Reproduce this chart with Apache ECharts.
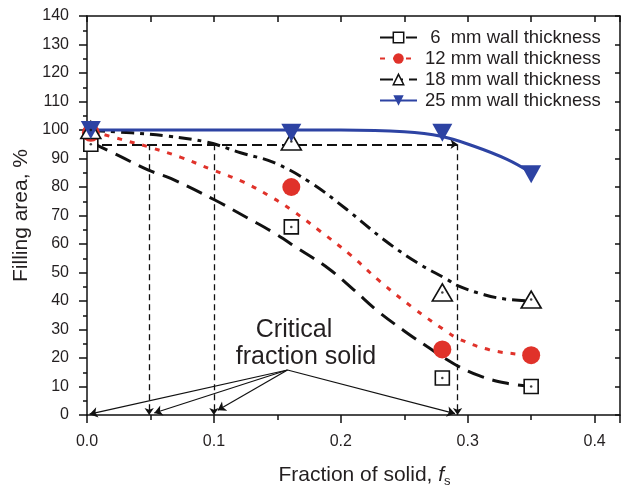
<!DOCTYPE html>
<html>
<head>
<meta charset="utf-8">
<script src="https://cdn.jsdelivr.net/npm/echarts@6/dist/echarts.min.js"></script>
<style>html,body{margin:0;padding:0;background:#fff}#c{width:621px;height:488px}</style>
</head>
<body>
<div id="c"></div>
<script>
// ---- data ----
const seriesNames = [' 6  mm wall thickness', '12 mm wall thickness', '18 mm wall thickness', '25 mm wall thickness'];
const fsMarkers = [0.003, 0.161, 0.28, 0.35];
const mm6Markers = [95, 66, 13, 10];
const mm12Markers = [99, 80, 23, 21];
const mm18Markers = [100, 96, 43, 40.5];
const mm25Markers = [100, 99, 99, 84.5];

const mm6CurveX = [0.004, 0.025, 0.048, 0.066, 0.1, 0.127, 0.147, 0.166, 0.19, 0.21, 0.229, 0.25, 0.268, 0.289, 0.309, 0.33, 0.35];
const mm6CurveY = [95.5, 91, 86, 83, 75.6, 69, 64, 58.5, 51.5, 44, 36.5, 29.5, 24, 18, 13.8, 11.2, 10];
const mm12CurveX = [0.004, 0.027, 0.049, 0.074, 0.099, 0.124, 0.147, 0.161, 0.184, 0.208, 0.231, 0.257, 0.281, 0.293, 0.317, 0.342, 0.35];
const mm12CurveY = [99.5, 96.7, 94, 90.4, 86, 81.6, 76, 72, 64.4, 56, 46.8, 37.6, 30, 26.7, 22.9, 21.2, 21];
const mm18CurveX = [0.004, 0.035, 0.064, 0.095, 0.121, 0.147, 0.176, 0.205, 0.234, 0.26, 0.284, 0.292, 0.313, 0.331, 0.35];
const mm18CurveY = [99.8, 99, 97.8, 95.7, 92, 88.6, 81.6, 72, 61.5, 53.5, 47.5, 45.4, 42.2, 40.6, 40];
const mm25CurveX = [0.003, 0.05, 0.1, 0.15, 0.2, 0.25, 0.279, 0.305, 0.331, 0.35];
const mm25CurveY = [100, 100, 100, 100, 100, 99.4, 97.8, 94.3, 89.7, 85];

const criticalFs = [0.049, 0.1, 0.292];      // vertical guide lines
const criticalLevel = 95;                    // horizontal guide level
const labelAnchor = [0.158, 15.8];           // where the annotation arrows start
const arrowTargets = [[0.002, 0.3], [0.053, 0.7], [0.103, 1.7], [0.29, 0.5]];

const yTicks = { min: 0, max: 140, interval: 10 };
const xTicks = { min: 0, max: 0.42, interval: 0.1 };

// ---- helpers ----
const zip = (xs, ys) => xs.map((x, i) => [x, ys[i]]);
const FONT = 'Liberation Sans, Arial, Helvetica, sans-serif';
const INK = '#231f20';
const RED = '#e0322a';
const BLUE = '#2d43a3';

const chart = echarts.init(document.getElementById('c'), null, { renderer: 'canvas' });

const curve = (name, xs, ys, color, dash, symbol, rotate, legendFill) => ({
  name, type: 'line', data: zip(xs, ys), smooth: 0.4, showSymbol: false,
  symbol, symbolRotate: rotate, symbolSize: 10,
  lineStyle: { color, width: 3, type: dash },
  itemStyle: { color: legendFill, borderColor: color, borderWidth: 1.5 },
  z: 3, silent: true, animation: false
});
const marks = (ys, symbol, size, fill, border, rotate) => ({
  type: 'scatter', data: zip(fsMarkers, ys), symbol, symbolSize: size, symbolRotate: rotate || 0,
  itemStyle: { color: fill, borderColor: border, borderWidth: border ? 1.6 : 0, opacity: 1 },
  z: 5, silent: true, animation: false, clip: false
});
const dots = (ys) => ({
  type: 'scatter', data: zip(fsMarkers, ys), symbol: 'circle', symbolSize: 2.5,
  itemStyle: { color: '#111' }, z: 6, silent: true, animation: false, clip: false
});
const guides = (lines, width, dash, arrowSize) => ({
  type: 'line', data: [], silent: true, animation: false,
  markLine: {
    silent: true, animation: false, symbol: ['none', 'arrow'], symbolSize: arrowSize,
    label: { show: false }, emphasis: { disabled: true },
    lineStyle: { color: '#111', width, type: dash, opacity: 1 },
    data: lines
  }
});

const hLine = [[{ coord: [0, criticalLevel] }, { coord: [criticalFs[2], criticalLevel] }]];
const vLines = criticalFs.map(f => [{ coord: [f, criticalLevel] }, { coord: [f, 0] }]);
const arrows = arrowTargets.map(t => [{ coord: labelAnchor }, { coord: t }]);

const option = {
  backgroundColor: '#fff',
  animation: false,
  grid: { left: 87, right: 1, top: 16, bottom: 73, containLabel: false, outerBoundsMode: 'none' },
  legend: {
    orient: 'vertical', left: 379, top: 28, padding: 0, itemWidth: 37, itemHeight: 13, itemGap: 2,
    textStyle: { fontSize: 18.5, color: INK, fontFamily: FONT, padding: [0, 0, 0, 3] },
    selectedMode: false,
    data: [
      { name: seriesNames[0], itemStyle: { color: '#fff', borderColor: '#111', borderWidth: 1.5 } },
      { name: seriesNames[1], itemStyle: { color: RED, borderWidth: 0 } },
      { name: seriesNames[2], itemStyle: { color: '#fff', borderColor: '#111', borderWidth: 1.5 } },
      { name: seriesNames[3], itemStyle: { color: BLUE, borderWidth: 0 } }
    ]
  },
  xAxis: [{
    type: 'value', position: 'bottom', min: xTicks.min, max: xTicks.max, interval: xTicks.interval,
    name: 'Fraction of solid, {i|f}{s|s}', nameLocation: 'middle', nameGap: 48,
    nameTextStyle: {
      fontSize: 21, color: INK, fontFamily: FONT, padding: [0, 0, 0, 22],
      rich: { i: { fontSize: 21, fontStyle: 'italic', color: INK, fontFamily: FONT },
              s: { fontSize: 13, color: INK, fontFamily: FONT, verticalAlign: 'bottom', padding: [12, 0, 0, 0] } }
    },
    axisLine: { show: true, onZero: false, lineStyle: { color: '#111', width: 1.5 } },
    axisTick: { show: true, inside: false, length: 8, lineStyle: { color: '#111', width: 1.5 } },
    minorTick: { show: true, splitNumber: 2, length: 5, lineStyle: { color: '#111', width: 1.5 } },
    axisLabel: { margin: 19, fontSize: 16, color: INK, fontFamily: FONT, showMaxLabel: false,
                 formatter: v => v.toFixed(1) },
    splitLine: { show: false }
  }, {
    type: 'value', position: 'top', min: xTicks.min, max: xTicks.max, interval: 0.05,
    axisLine: { show: true, onZero: false, lineStyle: { color: '#111', width: 1.5 } },
    axisTick: { show: true, inside: true, length: 6, lineStyle: { color: '#111', width: 1.5 } },
    axisLabel: { show: false }, splitLine: { show: false }
  }],
  yAxis: [{
    type: 'value', position: 'left', min: yTicks.min, max: yTicks.max, interval: yTicks.interval,
    name: 'Filling area, %', nameLocation: 'middle', nameGap: 53,
    nameTextStyle: { fontSize: 21, color: INK, fontFamily: FONT },
    axisLine: { show: true, onZero: false, lineStyle: { color: '#111', width: 1.5 } },
    axisTick: { show: true, inside: false, length: 8, lineStyle: { color: '#111', width: 1.5 } },
    minorTick: { show: true, splitNumber: 2, length: 4, lineStyle: { color: '#111', width: 1.5 } },
    axisLabel: { margin: 18, fontSize: 16, color: INK, fontFamily: FONT },
    splitLine: { show: false }
  }, {
    type: 'value', position: 'right', min: yTicks.min, max: yTicks.max, interval: yTicks.interval,
    axisLine: { show: true, onZero: false, lineStyle: { color: '#111', width: 1.5 } },
    axisTick: { show: true, inside: true, length: 5, lineStyle: { color: '#111', width: 1.5 } },
    axisLabel: { show: false }, splitLine: { show: false }
  }],
  graphic: [
    { type: 'text', x: 294, y: 330, z: 10, silent: true,
      style: { text: 'Critical', fontSize: 25, fontFamily: FONT, fill: INK, align: 'center', verticalAlign: 'middle' } },
    { type: 'text', x: 306, y: 357, z: 10, silent: true,
      style: { text: 'fraction solid', fontSize: 25, fontFamily: FONT, fill: INK, align: 'center', verticalAlign: 'middle' } }
  ],
  series: [
    curve(seriesNames[0], mm6CurveX, mm6CurveY, '#111', [17, 9], 'rect', 0, '#fff'),
    curve(seriesNames[1], mm12CurveX, mm12CurveY, RED, [5, 8], 'circle', 0, RED),
    curve(seriesNames[2], mm18CurveX, mm18CurveY, '#111', [13, 6, 4, 6], 'triangle', 0, '#fff'),
    curve(seriesNames[3], mm25CurveX, mm25CurveY, BLUE, 'solid', 'triangle', 180, BLUE),
    guides(hLine, 2, [10, 5], 7),
    guides(vLines, 1.3, [6, 4], 7),
    guides(arrows, 1.2, 'solid', 8),
    marks(mm6Markers, 'rect', 14, '#fff', '#111'),
    dots(mm6Markers),
    marks(mm12Markers, 'circle', 18, RED, null),
    marks(mm18Markers, 'triangle', [20, 17], '#fff', '#111'),
    dots(mm18Markers),
    marks(mm25Markers, 'triangle', [20, 18], BLUE, null, 180)
  ]
};
chart.setOption(option);
</script>
</body>
</html>
